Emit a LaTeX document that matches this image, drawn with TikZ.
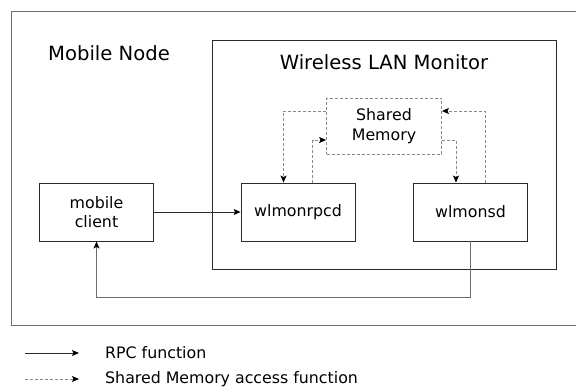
\documentclass[tikz,border=0pt]{standalone}
\usepackage{fontspec}
\setmainfont{DejaVu Sans}
\usetikzlibrary{arrows.meta}
\definecolor{outergray}{HTML}{6E6E6E}
\definecolor{dashgray}{HTML}{8A8A8A}
\definecolor{boxline}{HTML}{2A2A2A}
\begin{document}
\begin{tikzpicture}[x=1pt,y=-1pt,
  proc/.style={draw=boxline,line width=0.9pt,minimum width=114pt,minimum height=58pt,align=center,inner sep=0pt,font=\fontsize{15.8}{19.5}\selectfont},
  shm/.style={draw=dashgray,line width=0.8pt,dash pattern=on 3pt off 2pt,minimum width=115pt,minimum height=56pt,align=center,inner sep=0pt,font=\fontsize{15.8}{19.5}\selectfont},
  title/.style={font=\fontsize{19.6}{23}\selectfont,inner sep=0pt},
  legtext/.style={font=\fontsize{15.8}{19.5}\selectfont,inner sep=0pt,anchor=west},
  tip/.style={-{Stealth[length=7pt,width=6pt,inset=1.5pt,black]}},
  rpc/.style={tip,draw=boxline,line width=0.9pt},
  loopline/.style={tip,draw=outergray,line width=1.1pt},
  dsh/.style={tip,draw=dashgray,line width=0.8pt,dash pattern=on 3pt off 2pt}]
\useasboundingbox (0,0) rectangle (576,389);
% outer container
\node[draw=outergray,line width=1.1pt,minimum width=600pt,minimum height=314pt,inner sep=0pt,anchor=north west] (outer) at (11,11) {};
\node[title] (mntitle) at (109,53) {Mobile Node};
% WLM container
\node[draw=boxline,line width=1pt,minimum width=344pt,minimum height=229pt,inner sep=0pt,anchor=north west] (wlm) at (212,40) {};
\node[title] (wlmtitle) at (384,62) {Wireless LAN Monitor};
% processes
\node[proc] (mc) at (96.5,212) {mobile\\client};
\node[proc] (rpcd) at (298,212) {wlmonrpcd};
\node[proc] (sd) at (470.5,212) {wlmonsd};
\node[shm] (sm) at (384,126) {Shared\\Memory};
% RPC connections
\draw[rpc] (mc.east) -- (rpcd.west);
\coordinate (loopy) at (0,297.5);
\draw[loopline] (sd.south) -- (sd.south |- loopy) -| (mc.south);
% shared memory access
\draw[dsh] ([yshift=15pt]sm.west) -| ([xshift=-14.5pt]rpcd.north);
\draw[dsh] ([xshift=14.5pt]rpcd.north) |- ([yshift=-14pt]sm.west);
\draw[dsh] ([yshift=-14pt]sm.east) -| ([xshift=-14.5pt]sd.north);
\draw[dsh] ([xshift=14.5pt]sd.north) |- ([yshift=15pt]sm.east);
% legend
\coordinate (l1a) at (25,353);
\coordinate (l1b) at (79,353);
\coordinate (l2a) at (25,379);
\coordinate (l2b) at (79,379);
\draw[rpc] (l1a) -- (l1b);
\draw[dsh] (l2a) -- (l2b);
\node[legtext] (leg1) at (105,353) {RPC function};
\node[legtext] (leg2) at (105,379) {Shared Memory access function};
\end{tikzpicture}
\end{document}
